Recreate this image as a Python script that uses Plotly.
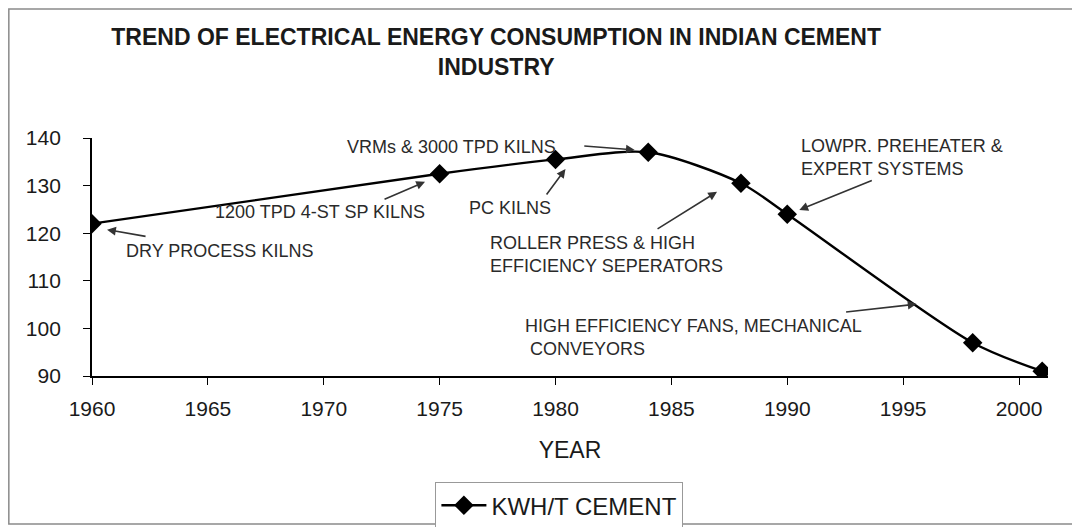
import plotly.graph_objects as go

# ---- data ----
years = [1960, 1975, 1980, 1984, 1988, 1990, 1998, 2001]
kwh_per_t = [122, 132.5, 135.5, 137, 130.5, 124, 97, 91]
series_name = "KWH/T CEMENT"

x_tick_vals = [1960, 1965, 1970, 1975, 1980, 1985, 1990, 1995, 2000]
y_tick_vals = [90, 100, 110, 120, 130, 140]

title_text = "TREND OF ELECTRICAL ENERGY CONSUMPTION IN INDIAN CEMENT<br>INDUSTRY"
x_title = "YEAR"

# milestone labels (text, left x, middle y in data units)
label_texts = [
    "DRY PROCESS KILNS",
    "1200 TPD 4-ST SP KILNS",
    "PC KILNS",
    "VRMs &amp; 3000 TPD KILNS",
    "ROLLER PRESS &amp; HIGH<br>EFFICIENCY SEPERATORS",
    "LOWPR. PREHEATER &amp;<br>EXPERT SYSTEMS",
    "HIGH EFFICIENCY FANS, MECHANICAL<br> CONVEYORS",
]
label_x = [1961.4, 1965.2, 1976.2, 1970.9, 1977.1, 1990.5, 1978.6]
label_y = [116.2, 124.5, 125.4, 138.1, 115.5, 135.8, 98.0]

# arrow heads (data units) and tail offsets (pixels)
arrow_x = [1960.65, 1974.37, 1980.43, 1983.42, 1986.97, 1990.52, 1995.58]
arrow_y = [120.75, 130.8, 133.5, 137.5, 128.7, 124.9, 105.1]
arrow_dx = [40, -42, -20, -52, -61, 74, -72]
arrow_dy = [7, 18, 27, -4, 38, -30, 8]

FONT = "Liberation Sans, Arial, Helvetica, sans-serif"
INK = "#1a1a1a"

W, H = 1080, 527

fig = go.Figure()
fig.add_trace(go.Scatter(
    x=years, y=kwh_per_t, name=series_name,
    mode="lines+markers",
    line=dict(color="black", width=2.4, shape="spline", smoothing=0.8),
    marker=dict(symbol="diamond", size=15, color="black"),
    showlegend=True,
))

annotations = []
for t, x, y in zip(label_texts, label_x, label_y):
    annotations.append(dict(
        x=x, y=y, xref="x", yref="y", text=t, showarrow=False,
        xanchor="left", yanchor="middle", align="left",
        font=dict(family=FONT, size=18, color="#2a2a2a"),
    ))
for x, y, dx, dy in zip(arrow_x, arrow_y, arrow_dx, arrow_dy):
    annotations.append(dict(
        x=x, y=y, xref="x", yref="y", ax=dx, ay=dy, text="",
        showarrow=True, arrowhead=2, arrowsize=1.1, arrowwidth=1.6,
        arrowcolor="#333333", standoff=0, startstandoff=0,
    ))

fig.update_layout(
    width=W, height=H,
    paper_bgcolor="white", plot_bgcolor="white",
    margin=dict(l=84, r=40, t=130, b=159),
    title=dict(text=title_text, x=0.452, xanchor="center", y=0.93, yanchor="middle",
               font=dict(family=FONT, size=23, color=INK, weight="bold")),
    font=dict(family=FONT, color=INK),
    xaxis=dict(
        range=[1960, 2001.25], tickvals=x_tick_vals, ticks="outside", ticklen=7,
        tickcolor="black", showline=True, linecolor="black", linewidth=1.8,
        showgrid=False, zeroline=False, tickfont=dict(size=21, color=INK),
        ticklabelstandoff=6, automargin=False,
        title=dict(text=x_title, font=dict(size=23, color=INK), standoff=23),
    ),
    yaxis=dict(
        range=[90, 140], tickvals=y_tick_vals, ticks="outside", ticklen=7,
        tickcolor="black", showline=True, linecolor="black", linewidth=1.8,
        showgrid=False, zeroline=False, tickfont=dict(size=21, color=INK),
        ticklabelstandoff=18, automargin=False,
    ),
    legend=dict(
        xref="paper", yref="container",
        x=0.359, xanchor="left", y=1 - 474 / H, yanchor="top",
        bordercolor="#999999", borderwidth=1.2, bgcolor="white",
        font=dict(family=FONT, size=24, color=INK), itemwidth=45,
    ),
    annotations=annotations,
    shapes=[dict(type="rect", xref="paper", yref="paper",
                 x0=-0.087, x1=1.027, y0=-0.622, y1=1.542,
                 line=dict(color="#8a8a8a", width=1.5))],
)

fig.write_html("out.html")
